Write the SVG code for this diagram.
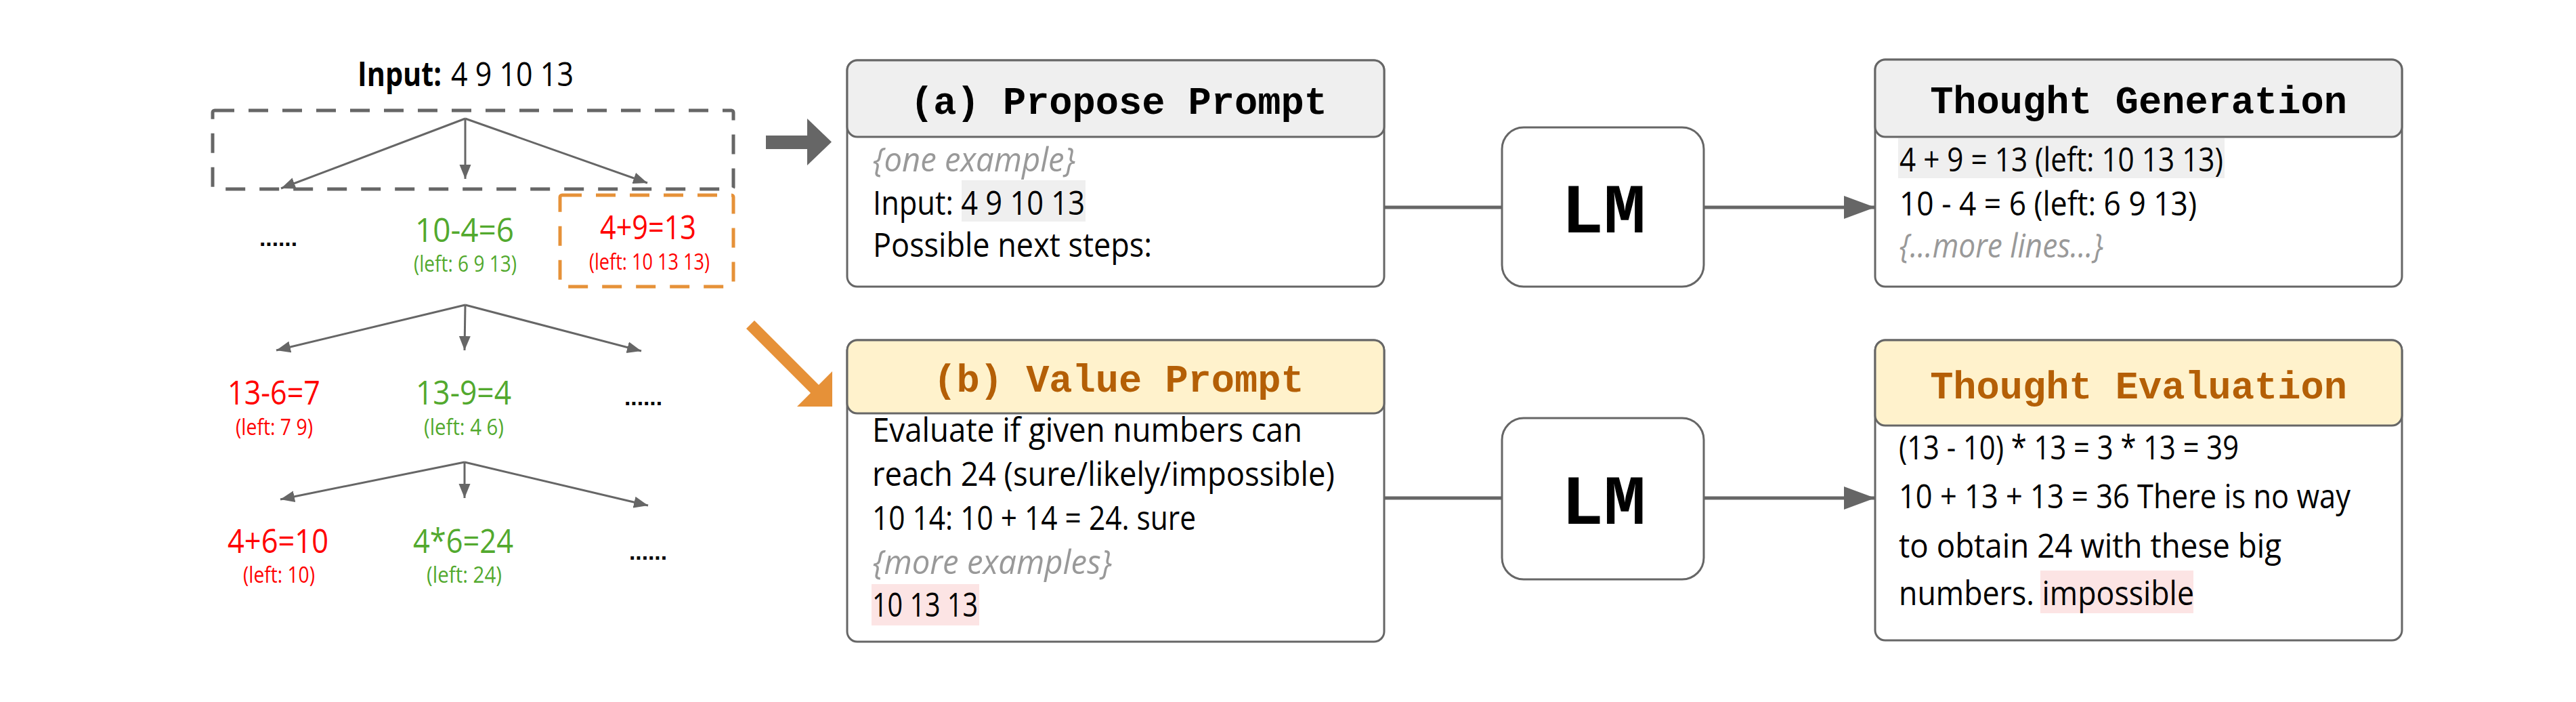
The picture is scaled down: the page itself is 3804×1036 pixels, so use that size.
<svg xmlns="http://www.w3.org/2000/svg" width="3804" height="1036" viewBox="0 0 3804 1036">
<style>
.body{font-family:"Open Sans","Noto Sans","Liberation Sans",sans-serif;font-size:50px;fill:#000}
.ital{font-style:italic;fill:#999}
.lbl{font-family:"Open Sans","Noto Sans","Liberation Sans",sans-serif;font-size:50px}
.sub{font-family:"Open Sans","Noto Sans","Liberation Sans",sans-serif;font-size:32px}
.red{fill:#ff0000}
.grn{fill:#52a92e}
.dots{font-family:"Liberation Sans",sans-serif;font-size:34px;font-weight:bold;fill:#000}
.title{font-family:"Liberation Mono","Courier New",monospace;font-weight:bold;font-size:57px;text-anchor:middle}
.lm{font-family:"Liberation Mono","Courier New",monospace;font-weight:bold;font-size:104px;text-anchor:middle;fill:#000}
.box{fill:#fff;stroke:#666;stroke-width:3}
.hdrg{fill:#efefef;stroke:#666;stroke-width:3}
.hdry{fill:#fff2cc;stroke:#666;stroke-width:3}
.tree{stroke:#666;stroke-width:3;fill:none}
.conn{stroke:#666;stroke-width:5;fill:none}
</style>
<defs>
<marker id="ah" markerUnits="userSpaceOnUse" markerWidth="22" markerHeight="18" refX="21" refY="8.5" orient="auto">
<path d="M0,0 L21,8.5 L0,17 z" fill="#666"/>
</marker>
<marker id="ahBig" markerUnits="userSpaceOnUse" markerWidth="47" markerHeight="35" refX="46" refY="17" orient="auto">
<path d="M0,0 L46,17 L0,34 z" fill="#666"/>
</marker>
</defs>
<rect width="3804" height="1036" fill="#fff"/>

<g id="tree-input">
<text class="body" x="528" y="127" font-weight="bold" textLength="124" lengthAdjust="spacingAndGlyphs">Input:</text>
<text class="body" x="666" y="127" textLength="181" lengthAdjust="spacingAndGlyphs">4 9 10 13</text>
</g>
<g id="tree-step1-box">
<rect x="314" y="163" width="769" height="116" fill="none" stroke="#666" stroke-width="5" stroke-dasharray="29 21" rx="3"/>
</g>
<g id="tree-selected-box">
<rect x="827" y="288" width="256" height="135" fill="none" stroke="#e69138" stroke-width="5" stroke-dasharray="29 21" rx="3"/>
</g>
<g id="tree-nodes">
<text class="dots" x="383" y="363" textLength="56" lengthAdjust="spacingAndGlyphs">......</text>
<text class="lbl grn" x="613" y="357" textLength="146" lengthAdjust="spacingAndGlyphs">10-4=6</text>
<text class="sub grn" x="611" y="401" textLength="152" lengthAdjust="spacingAndGlyphs">(left: 6 9 13)</text>
<text class="lbl red" x="886" y="353" textLength="142" lengthAdjust="spacingAndGlyphs">4+9=13</text>
<text class="sub red" x="870" y="398" textLength="178" lengthAdjust="spacingAndGlyphs">(left: 10 13 13)</text>
<text class="lbl red" x="336" y="597" textLength="137" lengthAdjust="spacingAndGlyphs">13-6=7</text>
<text class="sub red" x="348" y="642" textLength="114" lengthAdjust="spacingAndGlyphs">(left: 7 9)</text>
<text class="lbl grn" x="614" y="597" textLength="141" lengthAdjust="spacingAndGlyphs">13-9=4</text>
<text class="sub grn" x="626" y="642" textLength="118" lengthAdjust="spacingAndGlyphs">(left: 4 6)</text>
<text class="dots" x="922" y="598" textLength="56" lengthAdjust="spacingAndGlyphs">......</text>
<text class="lbl red" x="336" y="816" textLength="149" lengthAdjust="spacingAndGlyphs">4+6=10</text>
<text class="sub red" x="359" y="860" textLength="106" lengthAdjust="spacingAndGlyphs">(left: 10)</text>
<text class="lbl grn" x="610" y="816" textLength="148" lengthAdjust="spacingAndGlyphs">4*6=24</text>
<text class="sub grn" x="630" y="860" textLength="111" lengthAdjust="spacingAndGlyphs">(left: 24)</text>
<text class="dots" x="929" y="826" textLength="56" lengthAdjust="spacingAndGlyphs">......</text>
</g>

<g id="propose-prompt">
<rect class="box" x="1251" y="89" width="793" height="334" rx="15"/>
<rect class="hdrg" x="1251" y="89" width="793" height="113" rx="15"/>
<text class="title" x="1652" y="168" fill="#000">(a) Propose Prompt</text>
<rect x="1420" y="266" width="183" height="61" fill="#efefef"/>
<text class="body ital" x="1289" y="253" textLength="299" lengthAdjust="spacingAndGlyphs">{one example}</text>
<text class="body" x="1289" y="317" textLength="313" lengthAdjust="spacingAndGlyphs">Input: 4 9 10 13</text>
<text class="body" x="1289" y="379" textLength="412" lengthAdjust="spacingAndGlyphs">Possible next steps:</text>
</g>

<g id="lm-1">
<rect class="box" x="2218" y="188" width="298" height="235" rx="32"/>
<text class="lm" x="2368" y="343">LM</text>
</g>

<g id="thought-generation">
<rect class="box" x="2769" y="88" width="778" height="335" rx="15"/>
<rect class="hdrg" x="2769" y="88" width="778" height="114" rx="15"/>
<text class="title" x="3158" y="167" fill="#000">Thought Generation</text>
<rect x="2803" y="204" width="482" height="59" fill="#efefef"/>
<text class="body" x="2805" y="253" textLength="478" lengthAdjust="spacingAndGlyphs">4 + 9 = 13 (left: 10 13 13)</text>
<text class="body" x="2805" y="318" textLength="439" lengthAdjust="spacingAndGlyphs">10 - 4 = 6 (left: 6 9 13)</text>
<text class="body ital" x="2805" y="380" textLength="301" lengthAdjust="spacingAndGlyphs">{...more lines...}</text>
</g>

<g id="value-prompt">
<rect class="box" x="1251" y="502" width="793" height="445" rx="15"/>
<rect class="hdry" x="1251" y="502" width="793" height="108" rx="15"/>
<text class="title" x="1652" y="578" fill="#b45f06">(b) Value Prompt</text>
<rect x="1287" y="862" width="159" height="61" fill="#fce4e4"/>
<text class="body" x="1288" y="652" textLength="635" lengthAdjust="spacingAndGlyphs">Evaluate if given numbers can</text>
<text class="body" x="1288" y="717" textLength="683" lengthAdjust="spacingAndGlyphs">reach 24 (sure/likely/impossible)</text>
<text class="body" x="1288" y="782" textLength="478" lengthAdjust="spacingAndGlyphs">10 14: 10 + 14 = 24. sure</text>
<text class="body ital" x="1289" y="847" textLength="353" lengthAdjust="spacingAndGlyphs">{more examples}</text>
<text class="body" x="1288" y="910" textLength="156" lengthAdjust="spacingAndGlyphs">10 13 13</text>
</g>

<g id="lm-2">
<rect class="box" x="2218" y="617" width="298" height="238" rx="32"/>
<text class="lm" x="2368" y="773">LM</text>
</g>

<g id="thought-evaluation">
<rect class="box" x="2769" y="502" width="778" height="443" rx="15"/>
<rect class="hdry" x="2769" y="502" width="778" height="126" rx="15"/>
<text class="title" x="3158" y="588" fill="#b45f06">Thought Evaluation</text>
<rect x="3013" y="842" width="226" height="63" fill="#fce4e4"/>
<text class="body" x="2804" y="678" textLength="502" lengthAdjust="spacingAndGlyphs">(13 - 10) * 13 = 3 * 13 = 39</text>
<text class="body" x="2804" y="750" textLength="667" lengthAdjust="spacingAndGlyphs">10 + 13 + 13 = 36 There is no way</text>
<text class="body" x="2804" y="823" textLength="565" lengthAdjust="spacingAndGlyphs">to obtain 24 with these big</text>
<text class="body" x="2804" y="893" textLength="436" lengthAdjust="spacingAndGlyphs">numbers. impossible</text>
</g>

<g id="connectors">
<line class="tree" x1="687" y1="175" x2="415" y2="278" marker-end="url(#ah)"/>
<line class="tree" x1="687" y1="175" x2="687" y2="264" marker-end="url(#ah)"/>
<line class="tree" x1="687" y1="175" x2="956" y2="270" marker-end="url(#ah)"/>
<line class="tree" x1="687" y1="450" x2="408" y2="517" marker-end="url(#ah)"/>
<line class="tree" x1="687" y1="450" x2="686" y2="517" marker-end="url(#ah)"/>
<line class="tree" x1="687" y1="450" x2="947" y2="518" marker-end="url(#ah)"/>
<line class="tree" x1="686" y1="682" x2="414" y2="737" marker-end="url(#ah)"/>
<line class="tree" x1="686" y1="682" x2="686" y2="735" marker-end="url(#ah)"/>
<line class="tree" x1="686" y1="682" x2="957" y2="746" marker-end="url(#ah)"/>
<polygon points="1131,200 1192,200 1192,175 1228,209.5 1192,244 1192,220 1131,220" fill="#666"/>
<line x1="1108" y1="479" x2="1208" y2="579" stroke="#e69138" stroke-width="17"/>
<polygon points="1229,548 1229,600 1177,600" fill="#e69138"/>
<line class="conn" x1="2044" y1="306" x2="2218" y2="306"/>
<line class="conn" x1="2516" y1="306" x2="2769" y2="306" marker-end="url(#ahBig)"/>
<line class="conn" x1="2044" y1="735" x2="2218" y2="735"/>
<line class="conn" x1="2516" y1="735" x2="2769" y2="735" marker-end="url(#ahBig)"/>
</g>
</svg>
